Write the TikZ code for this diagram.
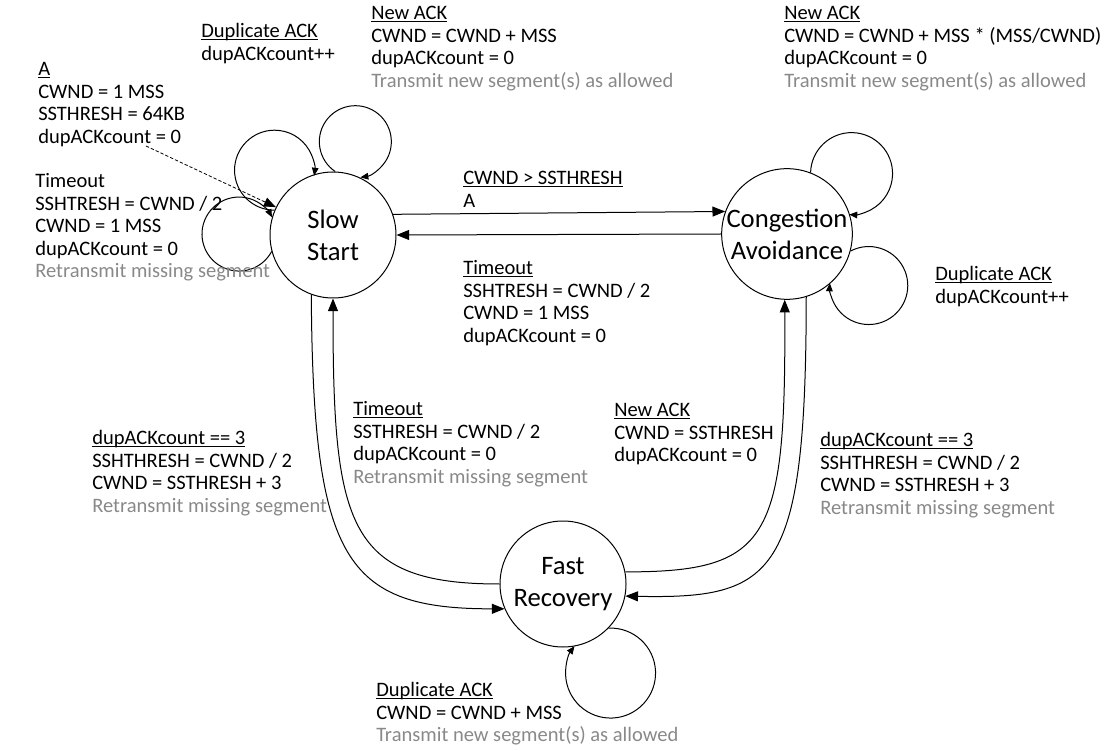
\documentclass[tikz,border=0pt]{standalone}
\usepackage{fontspec}
\setmainfont{Carlito}
\usetikzlibrary{arrows.meta}
\definecolor{note}{RGB}{137,137,137}
% underline sitting just under the baseline, crossing descenders
\newsavebox\ulbox
\newcommand{\ulined}[1]{\sbox\ulbox{#1}\rlap{\rule[-1.9pt]{\wd\ulbox}{0.55pt}}\usebox\ulbox}
\begin{document}
\begin{tikzpicture}[x=0.75pt,y=0.75pt,
  state/.style={circle,draw,line width=0.75pt,minimum size=94.5pt,inner sep=0pt,
    align=center,font=\fontsize{20}{24}\selectfont},
  lbl/.style={anchor=north west,inner sep=0pt,align=left,
    font=\fontsize{15.4}{16.875}\selectfont},
  edge/.style={draw,line width=0.75pt,-{Triangle[length=9.5pt,width=7.5pt]}},
  loopedge/.style={draw,line width=0.75pt,-{Triangle[length=6pt,width=5pt]}},
  initedge/.style={draw,line width=0.6pt,dash pattern=on 2.5pt off 1.5pt,
    -{Triangle[length=9pt,width=7pt]}},
]
\useasboundingbox (0,0) rectangle (1107,-748);

% states
\node[state] (ss) at (333,-235) {Slow\\Start};
\node[state] (ca) at (787,-234) {Congestion\\Avoidance};
\node[state] (fr) at (563,-584) {Fast\\Recovery};

% self loops
\draw[loopedge] (ss.157) arc[start angle=-90, end angle=-368, radius=40];
\draw[loopedge] (ss.88) arc[start angle=236, end angle=-82, radius=36];
\draw[loopedge] (ss.195) arc[start angle=-28, end angle=-333, radius=37];
\draw[loopedge] (ca.69.6) arc[start angle=178.5, end angle=-93.2, radius=41];
\draw[loopedge] (ca.-15.2) arc[start angle=117.8, end angle=-183.4, radius=39];
\draw[loopedge] (fr.-44.4) arc[start angle=92.4, end angle=-216.7, radius=45];

% transitions between states
\draw[edge] (ss.19.5) -- (ca.160.5);
\draw[edge] (ca.180) -- (ss.0);
\draw[edge] (ss.250.5) .. controls (313,-560) and (345,-609) .. (fr.203.4);
\draw[edge] (fr.180) .. controls (347,-584) and (333,-525) .. (ss.270);
\draw[edge] (fr.11) .. controls (770,-572) and (786,-540) .. (ca.268);
\draw[edge] (ca.-73.4) .. controls (806,-577) and (775,-599) .. (fr.-11.9);

% initial transition
\coordinate (init) at (146,-146);
\draw[initedge] (init) -- (ss.154);

% transition labels
\node[lbl] (dupss) at (201,-21.5) {\strut\ulined{Duplicate ACK}\\dupACKcount++};
\node[lbl] (newss) at (371,-3.5) {\strut\ulined{New ACK}\\CWND = CWND + MSS\\dupACKcount = 0\\\textcolor{note}{Transmit new segment(s) as allowed}};
\node[lbl] (newca) at (784,-3.5) {\strut\ulined{New ACK}\\CWND = CWND + MSS * (MSS/CWND)\\dupACKcount = 0\\\textcolor{note}{Transmit new segment(s) as allowed}};
\node[lbl] (initlbl) at (38,-59.5) {\strut\ulined{A}\\CWND = 1 MSS\\SSTHRESH = 64KB\\dupACKcount = 0};
\node[lbl] (toss) at (35,-171.5) {\strut Timeout\\SSHTRESH = CWND / 2\\CWND = 1 MSS\\dupACKcount = 0\\\textcolor{note}{Retransmit missing segment}};
\node[lbl] (ssca) at (463,-168.5) {\strut\ulined{CWND > SSTHRESH}\\A};
\node[lbl] (cass) at (463,-258.5) {\strut\ulined{Timeout}\\SSHTRESH = CWND / 2\\CWND = 1 MSS\\dupACKcount = 0};
\node[lbl] (dupca) at (935,-264.5) {\strut\ulined{Duplicate ACK}\\dupACKcount++};
\node[lbl] (ssfr) at (92,-428.5) {\strut\ulined{dupACKcount == 3}\\SSHTHRESH = CWND / 2\\CWND = SSTHRESH + 3\\\textcolor{note}{Retransmit missing segment}};
\node[lbl] (frss) at (353,-399.5) {\strut\ulined{Timeout}\\SSTHRESH = CWND / 2\\dupACKcount = 0\\\textcolor{note}{Retransmit missing segment}};
\node[lbl] (frca) at (614,-400.5) {\strut\ulined{New ACK}\\CWND = SSTHRESH\\dupACKcount = 0};
\node[lbl] (cafr) at (820,-430.5) {\strut\ulined{dupACKcount == 3}\\SSHTHRESH = CWND / 2\\CWND = SSTHRESH + 3\\\textcolor{note}{Retransmit missing segment}};
\node[lbl] (dupfr) at (376,-680.5) {\strut\ulined{Duplicate ACK}\\CWND = CWND + MSS\\\textcolor{note}{Transmit new segment(s) as allowed}};
\end{tikzpicture}
\end{document}
